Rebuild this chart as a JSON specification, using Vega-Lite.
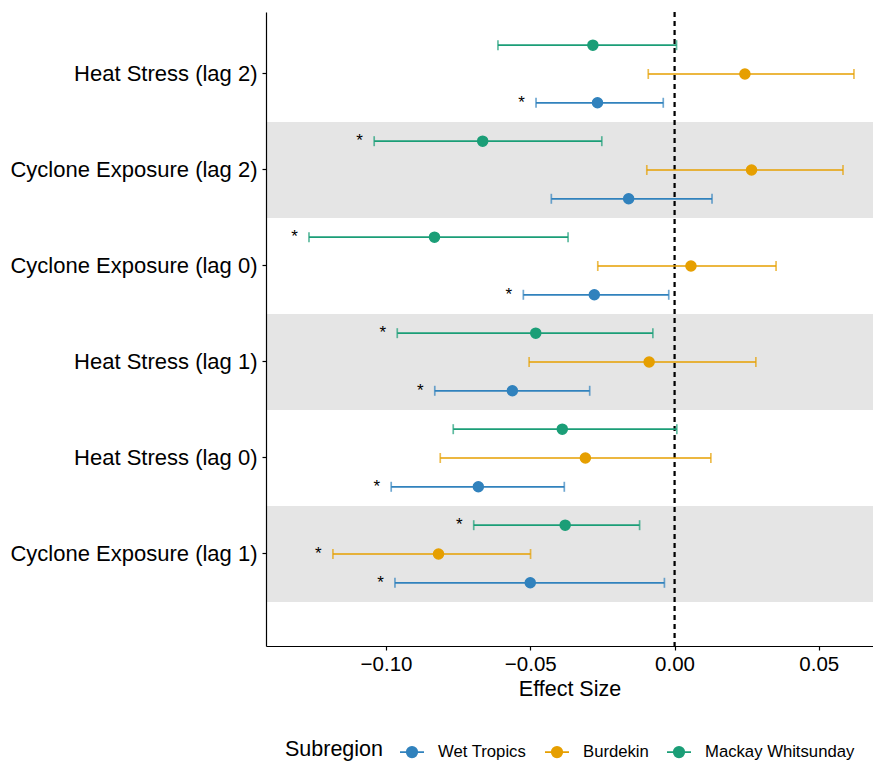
{
  "$schema": "https://vega.github.io/schema/vega-lite/v6.json",
  "width": 607,
  "height": 634,
  "autosize": {"type": "none"},
  "padding": {"left": 266, "top": 12, "right": 0, "bottom": 119},
  "background": "white",
  "config": {
    "view": {"stroke": null},
    "font": "Liberation Sans",
    "axis": {
      "domainColor": "black",
      "domainWidth": 1.2,
      "tickColor": "black",
      "tickWidth": 1.2,
      "tickSize": 4,
      "labelColor": "black",
      "titleColor": "black",
      "labelFont": "Liberation Sans",
      "titleFont": "Liberation Sans",
      "titleFontWeight": "normal",
      "grid": false
    }
  },
  "datasets": {
    "bands": [
      {"term": "Cyclone Exposure (lag 2)"},
      {"term": "Heat Stress (lag 1)"},
      {"term": "Cyclone Exposure (lag 1)"}
    ],
    "effects": [
      {"term": "Heat Stress (lag 2)", "subregion": "Mackay Whitsunday", "est": -0.0283, "lo": -0.0612, "hi": 0.0007, "sig": false},
      {"term": "Heat Stress (lag 2)", "subregion": "Burdekin", "est": 0.0244, "lo": -0.0091, "hi": 0.0622, "sig": false},
      {"term": "Heat Stress (lag 2)", "subregion": "Wet Tropics", "est": -0.0267, "lo": -0.048, "hi": -0.0039, "sig": true},
      {"term": "Cyclone Exposure (lag 2)", "subregion": "Mackay Whitsunday", "est": -0.0665, "lo": -0.1041, "hi": -0.0252, "sig": true},
      {"term": "Cyclone Exposure (lag 2)", "subregion": "Burdekin", "est": 0.0267, "lo": -0.0096, "hi": 0.0584, "sig": false},
      {"term": "Cyclone Exposure (lag 2)", "subregion": "Wet Tropics", "est": -0.0159, "lo": -0.0427, "hi": 0.013, "sig": false},
      {"term": "Cyclone Exposure (lag 0)", "subregion": "Mackay Whitsunday", "est": -0.0832, "lo": -0.1267, "hi": -0.0369, "sig": true},
      {"term": "Cyclone Exposure (lag 0)", "subregion": "Burdekin", "est": 0.0057, "lo": -0.0266, "hi": 0.0352, "sig": false},
      {"term": "Cyclone Exposure (lag 0)", "subregion": "Wet Tropics", "est": -0.0278, "lo": -0.0524, "hi": -0.002, "sig": true},
      {"term": "Heat Stress (lag 1)", "subregion": "Mackay Whitsunday", "est": -0.0481, "lo": -0.0961, "hi": -0.0075, "sig": true},
      {"term": "Heat Stress (lag 1)", "subregion": "Burdekin", "est": -0.0088, "lo": -0.0504, "hi": 0.0282, "sig": false},
      {"term": "Heat Stress (lag 1)", "subregion": "Wet Tropics", "est": -0.0562, "lo": -0.0831, "hi": -0.0294, "sig": true},
      {"term": "Heat Stress (lag 0)", "subregion": "Mackay Whitsunday", "est": -0.0389, "lo": -0.0767, "hi": 0.0008, "sig": false},
      {"term": "Heat Stress (lag 0)", "subregion": "Burdekin", "est": -0.0309, "lo": -0.0812, "hi": 0.0126, "sig": false},
      {"term": "Heat Stress (lag 0)", "subregion": "Wet Tropics", "est": -0.068, "lo": -0.0982, "hi": -0.0382, "sig": true},
      {"term": "Cyclone Exposure (lag 1)", "subregion": "Mackay Whitsunday", "est": -0.0379, "lo": -0.0696, "hi": -0.0121, "sig": true},
      {"term": "Cyclone Exposure (lag 1)", "subregion": "Burdekin", "est": -0.0818, "lo": -0.1184, "hi": -0.0499, "sig": true},
      {"term": "Cyclone Exposure (lag 1)", "subregion": "Wet Tropics", "est": -0.05, "lo": -0.0969, "hi": -0.0035, "sig": true}
    ]
  },
  "layer": [
    {
      "data": {"name": "bands"},
      "mark": {"type": "rect", "color": "#E5E5E5"},
      "encoding": {
        "y": {"field": "term", "type": "nominal", "scale": {"domain": ["Heat Stress (lag 2)", "Cyclone Exposure (lag 2)", "Cyclone Exposure (lag 0)", "Heat Stress (lag 1)", "Heat Stress (lag 0)", "Cyclone Exposure (lag 1)"], "paddingInner": 0, "paddingOuter": 0.302, "align": 0.241}, "axis": {"title": null, "labelFontSize": 22, "labelPadding": 5, "labelLimit": 0, "ticks": true}}
      }
    },
    {
      "data": {"name": "effects"},
      "mark": {"type": "rule", "color": "black", "strokeDash": [5, 4], "strokeWidth": 1.1},
      "encoding": {"x": {"datum": 0}}
    },
    {
      "data": {"name": "effects"},
      "mark": {"type": "rule", "strokeWidth": 1.7},
      "encoding": {
        "x": {"field": "lo", "type": "quantitative", "scale": {"domain": [-0.1416, 0.0688], "nice": false, "zero": false}, "axis": {"title": "Effect Size", "values": [-0.1, -0.05, 0, 0.05], "format": ".2f", "labelFontSize": 20.5, "titleFontSize": 21.5, "labelPadding": 4, "titlePadding": 4}},
        "x2": {"field": "hi"},
        "y": {"field": "term", "type": "nominal"},
        "yOffset": {"field": "subregion", "type": "nominal", "scale": {"domain": ["Mackay Whitsunday", "Burdekin", "Wet Tropics"], "paddingInner": 0, "paddingOuter": 0.1667}},
        "color": {"field": "subregion", "type": "nominal", "scale": {"domain": ["Mackay Whitsunday", "Burdekin", "Wet Tropics"], "range": ["#1B9E77", "#E69F00", "#3182BD"]}, "legend": null}
      }
    },
    {
      "data": {"name": "effects"},
      "mark": {"type": "tick", "thickness": 1.7, "size": 10},
      "encoding": {
        "x": {"field": "lo", "type": "quantitative"},
        "y": {"field": "term", "type": "nominal"},
        "yOffset": {"field": "subregion", "type": "nominal"},
        "color": {"field": "subregion", "type": "nominal", "legend": null}
      }
    },
    {
      "data": {"name": "effects"},
      "mark": {"type": "tick", "thickness": 1.7, "size": 10},
      "encoding": {
        "x": {"field": "hi", "type": "quantitative"},
        "y": {"field": "term", "type": "nominal"},
        "yOffset": {"field": "subregion", "type": "nominal"},
        "color": {"field": "subregion", "type": "nominal", "legend": null}
      }
    },
    {
      "data": {"name": "effects"},
      "mark": {"type": "point", "filled": true, "size": 100, "strokeWidth": 1.5, "opacity": 1},
      "encoding": {
        "x": {"field": "est", "type": "quantitative"},
        "y": {"field": "term", "type": "nominal"},
        "yOffset": {"field": "subregion", "type": "nominal"},
        "fill": {"field": "subregion", "type": "nominal", "scale": {"domain": ["Wet Tropics", "Burdekin", "Mackay Whitsunday"], "range": ["#3182BD", "#E69F00", "#1B9E77"]}, "legend": {"title": "Subregion", "orient": "none", "legendX": 19, "legendY": 727, "direction": "horizontal", "titleOrient": "left", "titleFontSize": 21.5, "titleFontWeight": "normal", "titleColor": "black", "titlePadding": 15, "labelFontSize": 16.7, "labelColor": "black", "labelOffset": 13, "columnPadding": 14, "symbolType": "M-1,0L1,0M-0.4375,0A0.4375,0.4375,0,1,1,0.4375,0A0.4375,0.4375,0,1,1,-0.4375,0Z", "symbolSize": 576, "symbolStrokeWidth": 1.8}},
        "stroke": {"field": "subregion", "type": "nominal", "scale": {"domain": ["Wet Tropics", "Burdekin", "Mackay Whitsunday"], "range": ["#3182BD", "#E69F00", "#1B9E77"]}, "legend": {"title": "Subregion", "orient": "none", "legendX": 19, "legendY": 727, "direction": "horizontal", "titleOrient": "left", "titleFontSize": 21.5, "titleFontWeight": "normal", "titleColor": "black", "titlePadding": 15, "labelFontSize": 16.7, "labelColor": "black", "labelOffset": 13, "columnPadding": 14, "symbolType": "M-1,0L1,0M-0.4375,0A0.4375,0.4375,0,1,1,0.4375,0A0.4375,0.4375,0,1,1,-0.4375,0Z", "symbolSize": 576, "symbolStrokeWidth": 1.8}}
      }
    },
    {
      "data": {"name": "effects"},
      "transform": [{"filter": "datum.sig"}],
      "mark": {"type": "text", "text": "*", "fontSize": 17, "color": "black", "dx": -14.5, "baseline": "middle", "align": "center"},
      "encoding": {
        "x": {"field": "lo", "type": "quantitative"},
        "y": {"field": "term", "type": "nominal"},
        "yOffset": {"field": "subregion", "type": "nominal"}
      }
    }
  ]
}
